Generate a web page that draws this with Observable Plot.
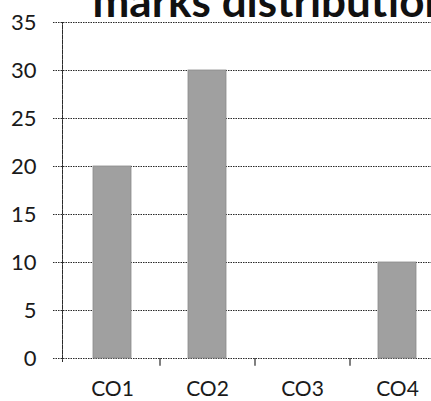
<!DOCTYPE html>
<html>
<head>
<meta charset="utf-8">
<script src="https://cdn.jsdelivr.net/npm/d3@7"></script>
<script src="https://cdn.jsdelivr.net/npm/@observablehq/plot@0.6"></script>
<style>
  html, body { margin: 0; padding: 0; background: white; overflow: hidden; }
</style>
</head>
<body>
<div id="chart"></div>
<script>
const categories = ["CO1", "CO2", "CO3", "CO4"];
const marks = [20, 30, 0, 10];
const yTicks = [0, 5, 10, 15, 20, 25, 30, 35];
const title = "marks distribution";

const data = categories.map((c, i) => ({category: c, value: marks[i]}));
const gridDash = "1.5,1";

const chart = Plot.plot({
  width: 431,
  height: 401,
  marginTop: 22,
  marginBottom: 43,
  marginLeft: 62,
  marginRight: 0,
  style: {fontFamily: "Lato, 'Open Sans', sans-serif", fontSize: "22px", color: "#1a1a1a", background: "white"},
  x: {domain: categories, range: [64.5, 444.5], padding: 0.6, paddingOuter: 0.3, label: null},
  y: {domain: [0, 35], label: null},
  marks: [
    Plot.ruleY(yTicks, {stroke: "#2a2a2a", strokeWidth: 1, strokeDasharray: gridDash, insetLeft: -9}),
    Plot.frame({anchor: "left", stroke: "#2a2a2a", strokeDasharray: gridDash, insetBottom: -4}),
    Plot.ruleX(categories.slice(1), {x: d => d, y1: 0, y2: -0.8, dx: -47.5, stroke: "#2a2a2a", strokeWidth: 1.2}),
    Plot.barY(data, {x: "category", y: "value", fill: "#a0a0a0", stroke: "#8a8a8a", strokeWidth: 0.8}),
    Plot.axisY({ticks: yTicks, tickSize: 0, tickPadding: 26, fontSize: 22}),
    Plot.axisX({tickSize: 0, tickPadding: 23, fontSize: 21}),
    Plot.text([title], {frameAnchor: "top-left", dx: 30, dy: -6, lineAnchor: "bottom", textAnchor: "start", fontSize: 44, fontWeight: "bold", fill: "#111"})
  ]
});
document.getElementById("chart").append(chart);
</script>
</body>
</html>
